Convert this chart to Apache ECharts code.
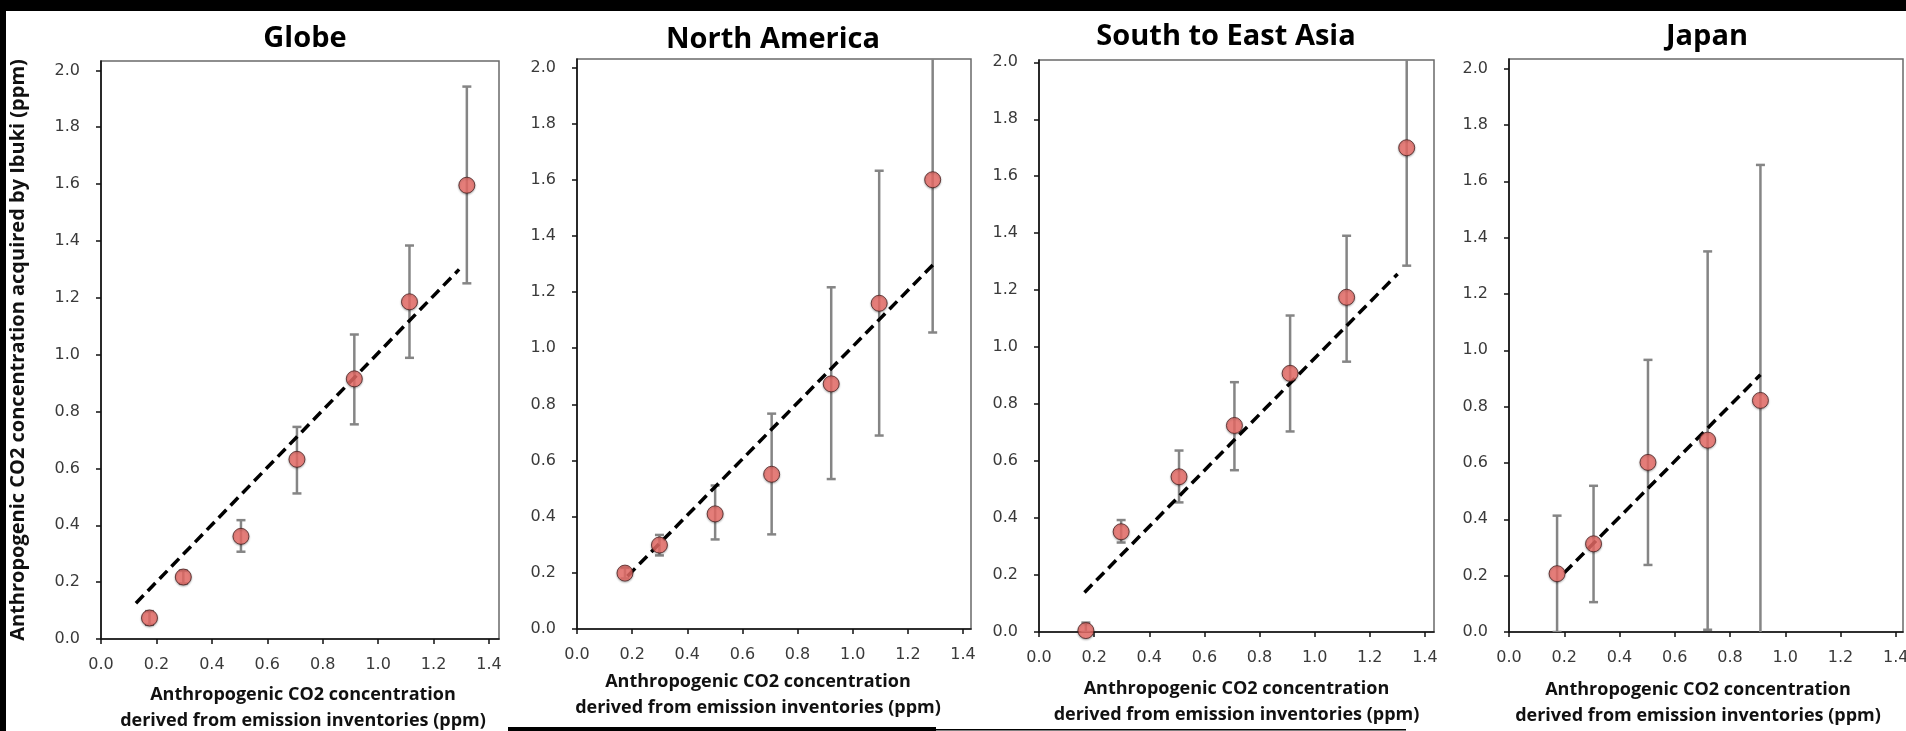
<!DOCTYPE html>
<html>
<head>
<meta charset="utf-8">
<title>Anthropogenic CO2: Ibuki vs emission inventories</title>
<script src="https://cdn.jsdelivr.net/npm/echarts@6/dist/echarts.min.js"></script>
<style>
  html, body { margin: 0; padding: 0; background: #fff; }
  #main { width: 1906px; height: 731px; }
</style>
</head>
<body>
<div id="main"></div>
<script>
var regions = ['Globe', 'North America', 'South to East Asia', 'Japan']

// x: from emission inventories, y: acquired by Ibuki (ppm)
var globeX = [0.175, 0.297, 0.505, 0.707, 0.914, 1.113, 1.320]
var globeY = [0.074, 0.218, 0.361, 0.632, 0.915, 1.186, 1.596]
var globeLow = [0.050, 0.195, 0.307, 0.512, 0.755, 0.989, 1.251]
var globeHigh = [0.098, 0.241, 0.418, 0.746, 1.071, 1.384, 1.943]
var globeFit = [[0.126, 0.126], [1.292, 1.300]]

var naX = [0.174, 0.299, 0.501, 0.706, 0.922, 1.096, 1.290]
var naY = [0.199, 0.299, 0.410, 0.551, 0.873, 1.160, 1.600]
var naLow = [0.180, 0.262, 0.319, 0.337, 0.534, 0.689, 1.056]
var naHigh = [0.218, 0.335, 0.511, 0.767, 1.217, 1.632, 2.150]
var naFit = [[0.183, 0.188], [1.294, 1.300]]

var seaX = [0.170, 0.298, 0.508, 0.709, 0.911, 1.116, 1.334]
var seaY = [0.005, 0.352, 0.545, 0.725, 0.908, 1.175, 1.700]
var seaLow = [0.000, 0.314, 0.455, 0.568, 0.704, 0.949, 1.286]
var seaHigh = [0.033, 0.393, 0.637, 0.877, 1.111, 1.391, 2.100]
var seaFit = [[0.165, 0.139], [1.301, 1.257]]

var japanX = [0.174, 0.306, 0.503, 0.719, 0.910]
var japanY = [0.207, 0.313, 0.602, 0.681, 0.822]
var japanLow = [0.000, 0.106, 0.238, 0.008, -0.050]
var japanHigh = [0.413, 0.519, 0.966, 1.351, 1.658]
var japanFit = [[0.200, 0.210], [0.910, 0.913]]

var xTicks = [0, 0.2, 0.4, 0.6, 0.8, 1.0, 1.2, 1.4]
var yTicks = [0, 0.2, 0.4, 0.6, 0.8, 1.0, 1.2, 1.4, 1.6, 1.8, 2.0]

var xTitle = 'Anthropogenic CO2 concentration\nderived from emission inventories (ppm)'
var yTitle = 'Anthropogenic CO2 concentration acquired by Ibuki (ppm)'

var panels = [
  { x: globeX, y: globeY, low: globeLow, high: globeHigh, fit: globeFit },
  { x: naX, y: naY, low: naLow, high: naHigh, fit: naFit },
  { x: seaX, y: seaY, low: seaLow, high: seaHigh, fit: seaFit },
  { x: japanX, y: japanY, low: japanLow, high: japanHigh, fit: japanFit }
]

var boxes = [
  { left: 101, top: 61, width: 398, height: 578, xMax: 1.436, yMax: 2.033, nameGap: 43, namePad: [0, 0, 0, 6], titleX: 305, titleY: 39 },
  { left: 577, top: 59, width: 394, height: 570, xMax: 1.429, yMax: 2.030, nameGap: 40, namePad: [0, 32, 0, 0], titleX: 773, titleY: 40 },
  { left: 1039, top: 60, width: 395, height: 572, xMax: 1.433, yMax: 2.008, nameGap: 44, namePad: [0, 0, 0, 0], titleX: 1226, titleY: 37 },
  { left: 1509, top: 59, width: 394, height: 573, xMax: 1.426, yMax: 2.034, nameGap: 45, namePad: [0, 16, 0, 0], titleX: 1707, titleY: 37 }
]

var labelFont = { fontFamily: 'DejaVu Sans', fontSize: 16, color: '#3a3a3a' }
var boldFont = 'Open Sans'

function errorBar(params, api) {
  var x = api.value(0)
  var lo = api.coord([x, api.value(1)])
  var hi = api.coord([x, api.value(2)])
  var cap = 4.5
  var style = { stroke: '#858585', lineWidth: 2.5 }
  return {
    type: 'group',
    children: [
      { type: 'line', shape: { x1: lo[0], y1: lo[1], x2: hi[0], y2: hi[1] }, style: style },
      { type: 'line', shape: { x1: lo[0] - cap, y1: lo[1], x2: lo[0] + cap, y2: lo[1] }, style: style },
      { type: 'line', shape: { x1: hi[0] - cap, y1: hi[1], x2: hi[0] + cap, y2: hi[1] }, style: style }
    ]
  }
}

var grids = [], xAxes = [], yAxes = [], series = [], graphics = []

panels.forEach(function (p, i) {
  var b = boxes[i]
  grids.push({
    left: b.left, top: b.top, width: b.width, height: b.height,
    show: true, borderColor: '#6a6a6a', borderWidth: 1.5, backgroundColor: '#fff',
    containLabel: false, outerBoundsMode: 'none'
  })
  xAxes.push({
    gridIndex: i, type: 'value', min: 0, max: b.xMax,
    axisLine: { show: true, onZero: false, lineStyle: { color: '#111', width: 1.6 } },
    axisTick: { show: true, customValues: xTicks, length: 5, lineStyle: { color: '#111', width: 1.5 } },
    axisLabel: Object.assign({ customValues: xTicks, margin: 18, formatter: function (v) { return v.toFixed(1) } }, labelFont),
    splitLine: { show: false },
    name: xTitle, nameLocation: 'middle', nameGap: b.nameGap,
    nameTextStyle: { fontFamily: boldFont, fontWeight: 'bold', fontSize: 18, color: '#111', lineHeight: 26, padding: b.namePad }
  })
  var yAxis = {
    gridIndex: i, type: 'value', min: 0, max: b.yMax,
    axisLine: { show: true, onZero: false, lineStyle: { color: '#111', width: 1.6 } },
    axisTick: { show: true, customValues: yTicks, length: 5, lineStyle: { color: '#111', width: 1.5 } },
    axisLabel: Object.assign({ customValues: yTicks, margin: 21, formatter: function (v) { return v.toFixed(1) } }, labelFont),
    splitLine: { show: false }
  }
  if (i === 0) {
    yAxis.name = yTitle
    yAxis.nameLocation = 'middle'
    yAxis.nameRotate = 90
    yAxis.nameGap = 73
    yAxis.nameTextStyle = { fontFamily: boldFont, fontWeight: 'bold', fontSize: 20, color: '#111' }
  }
  yAxes.push(yAxis)

  series.push({
    type: 'custom', name: regions[i] + ' range', xAxisIndex: i, yAxisIndex: i,
    renderItem: errorBar, clip: true, z: 2,
    data: p.x.map(function (v, k) { return [v, p.low[k], p.high[k]] })
  })
  series.push({
    type: 'line', name: regions[i] + ' fit', xAxisIndex: i, yAxisIndex: i,
    data: p.fit, showSymbol: false, symbol: 'none', z: 3, silent: true,
    lineStyle: { color: '#000', width: 3.5, type: [11, 6] }
  })
  series.push({
    type: 'scatter', name: regions[i], xAxisIndex: i, yAxisIndex: i,
    data: p.x.map(function (v, k) { return [v, p.y[k]] }),
    symbol: 'circle', symbolSize: 16, z: 4,
    itemStyle: {
      color: '#ef6e69', borderColor: '#4a2222', borderWidth: 1,
      shadowBlur: 2, shadowColor: 'rgba(0,0,0,0.35)', shadowOffsetY: 1
    }
  })

  graphics.push({
    type: 'text', x: b.titleX, y: b.titleY,
    style: { text: regions[i], align: 'center', verticalAlign: 'middle',
      font: 'bold 29px "Open Sans"', fill: '#000' }
  })
})

// black edges of the scanned figure
graphics.push({ type: 'rect', shape: { x: 0, y: 0, width: 1906, height: 11 }, style: { fill: '#000' } })
graphics.push({ type: 'rect', shape: { x: 0, y: 0, width: 6, height: 731 }, style: { fill: '#000' } })
graphics.push({ type: 'rect', shape: { x: 508, y: 727, width: 428, height: 4 }, style: { fill: '#000' } })
graphics.push({ type: 'rect', shape: { x: 936, y: 729, width: 470, height: 1.5 }, style: { fill: '#000' } })

var myChart = echarts.init(document.getElementById('main'))
myChart.setOption({
  backgroundColor: '#fff',
  animation: false,
  grid: grids,
  xAxis: xAxes,
  yAxis: yAxes,
  series: series,
  graphic: graphics
})
</script>
</body>
</html>
